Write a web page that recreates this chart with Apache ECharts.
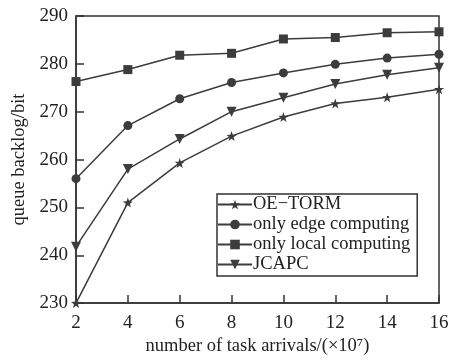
<!DOCTYPE html>
<html><head><meta charset="utf-8">
<script src="https://cdn.jsdelivr.net/npm/echarts@6/dist/echarts.min.js"></script>
<style>html,body{margin:0;padding:0;background:#fff}#c{width:453px;height:361px}</style>
</head><body><div id="c"></div>
<script>
const xValues = [2, 4, 6, 8, 10, 12, 14, 16];
const oeTorm = [230.0, 251.0, 259.3, 264.9, 268.9, 271.7, 273.0, 274.7];
const edgeOnly = [256.0, 267.1, 272.7, 276.1, 278.1, 279.9, 281.2, 282.0];
const localOnly = [276.3, 278.8, 281.8, 282.2, 285.2, 285.5, 286.5, 286.7];
const jcapc = [241.8, 258.0, 264.3, 270.0, 272.9, 275.8, 277.7, 279.2];
const seriesNames = ['OE\u2212TORM', 'only edge computing', 'only local computing', 'JCAPC'];

const star = 'path://M0,-10 L2.35,-3.24 L9.51,-3.09 L3.8,1.24 L5.88,8.09 L0,4 L-5.88,8.09 L-3.8,1.24 L-9.51,-3.09 L-2.35,-3.24 Z';
const col = '#3c3c3c';
const font = '"Liberation Serif", "Times New Roman", serif';
function pairs(arr){ return xValues.map((x,i)=>[x, arr[i]]); }
function mk(name, data, symbol, size, rot){
  return {name, type:'line', data:pairs(data), symbol, symbolSize:size, symbolRotate:rot||0,
    lineStyle:{color:col, width:1.5}, itemStyle:{color:col}, animation:false};
}
const chart = echarts.init(document.getElementById('c'));
chart.setOption({
  backgroundColor:'#fff',
  grid:{left:76, right:14, top:16, bottom:53, show:true, borderColor:'#333', borderWidth:1.5},
  xAxis:{type:'value', min:2, max:16, interval:2,
    name:'number of task arrivals/(\u00d710\u2077)', nameLocation:'middle', nameGap:30,
    nameTextStyle:{fontFamily:font, fontSize:18.5, color:'#222'},
    axisLine:{lineStyle:{color:'#333', width:1.5}},
    axisTick:{inside:true, length:8, lineStyle:{color:'#333', width:1.5}},
    axisLabel:{fontFamily:font, fontSize:19, color:'#222', margin:10},
    splitLine:{show:false}},
  yAxis:{type:'value', min:230, max:290, interval:10,
    name:'queue backlog/bit', nameLocation:'middle', nameGap:36,
    nameTextStyle:{fontFamily:font, fontSize:18.5, color:'#222'},
    axisLine:{lineStyle:{color:'#333', width:1.5}},
    axisTick:{inside:true, length:8, lineStyle:{color:'#333', width:1.5}},
    axisLabel:{fontFamily:font, fontSize:19, color:'#222', margin:8},
    splitLine:{show:false}},
  legend:{left:217, top:194, orient:'vertical', padding:[1,7,2,0], itemGap:1,
    itemWidth:34, itemHeight:12, borderColor:'#333', borderWidth:1.5,
    textStyle:{fontFamily:font, fontSize:18.5, lineHeight:17.7, color:'#222', padding:[0,0,0,-4]},
    data:seriesNames},
  series:[
    mk(seriesNames[0], oeTorm, star, 10),
    mk(seriesNames[1], edgeOnly, 'circle', 9),
    mk(seriesNames[2], localOnly, 'rect', 9),
    mk(seriesNames[3], jcapc, 'triangle', 10, 180)
  ]
});
</script></body></html>
